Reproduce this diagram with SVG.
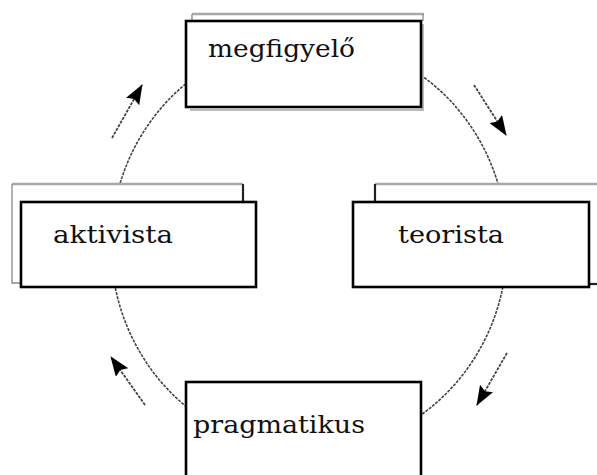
<svg xmlns="http://www.w3.org/2000/svg" width="597" height="475" viewBox="0 0 597 475">
  <style>
    .ring { fill: none; stroke: #444; stroke-width: 1.6; stroke-dasharray: 3 1.2; }
    .shaft { fill: none; stroke: #444; stroke-width: 1.8; stroke-dasharray: 3 1.2; }
    .back { fill: #fff; stroke: none; }
    .edge-light { stroke: #a8a8a8; stroke-width: 2.5; fill: none; }
    .edge-dark { stroke: #222; stroke-width: 2.2; fill: none; }
    .edge-thin { stroke: #888; stroke-width: 1.3; fill: none; }
    .front { fill: #fff; stroke: #000; stroke-width: 2.6; }
    .shadow { stroke: #bbb; stroke-width: 2; fill: none; }
    .label { font-family: "DejaVu Serif", "Liberation Serif", serif; font-size: 24px; fill: #111; }
  </style>
  <defs>
    <marker id="head" viewBox="0 0 20 15" refX="19" refY="7.5" markerWidth="20" markerHeight="15" markerUnits="userSpaceOnUse" orient="auto">
      <path d="M0,0 L20,7.5 L0,15 L3,7.5 Z" fill="#000"/>
    </marker>
  </defs>

  <!-- cycle ring and direction arrows -->
  <g id="connectors">
    <ellipse class="ring" cx="309" cy="245" rx="198" ry="206"/>
    <path class="shaft" d="M112,138 L142,85" marker-end="url(#head)"/>
    <path class="shaft" d="M474,85 L506,135" marker-end="url(#head)"/>
    <path class="shaft" d="M507,353 L477,405" marker-end="url(#head)"/>
    <path class="shaft" d="M145,405 L111,357" marker-end="url(#head)"/>
  </g>

  <!-- observer -->
  <g id="megfigyelo">
    <rect class="back" x="192" y="14" width="231" height="20"/>
    <line class="edge-light" x1="192" y1="14" x2="424" y2="14"/>
    <line class="edge-thin" x1="192" y1="14" x2="192" y2="21"/>
    <line class="edge-thin" x1="423" y1="14" x2="423" y2="21"/>
    <polyline class="shadow" points="190,110 423,110 423,24"/>
    <rect class="front" x="186" y="21" width="235" height="86"/>
    <text class="label" x="208" y="57" textLength="147" lengthAdjust="spacingAndGlyphs">megfigyelő</text>
  </g>

  <!-- activist -->
  <g id="aktivista">
    <rect class="back" x="12" y="184" width="231" height="99"/>
    <line class="edge-light" x1="12" y1="184" x2="243" y2="184"/>
    <polyline class="edge-thin" points="12,184 12,283 21,283"/>
    <line class="edge-dark" x1="243" y1="184" x2="243" y2="202"/>
    <rect class="front" x="21" y="202" width="235" height="85"/>
    <text class="label" x="53" y="243" textLength="120" lengthAdjust="spacingAndGlyphs">aktivista</text>
  </g>

  <!-- theorist -->
  <g id="teorista">
    <rect class="back" x="375" y="184" width="230" height="100"/>
    <line class="edge-light" x1="375" y1="184" x2="597" y2="184"/>
    <line class="edge-dark" x1="375" y1="184" x2="375" y2="202"/>
    <line class="edge-dark" x1="589" y1="284" x2="597" y2="284"/>
    <rect class="front" x="353" y="202" width="236" height="85"/>
    <text class="label" x="398" y="243" textLength="106" lengthAdjust="spacingAndGlyphs">teorista</text>
  </g>

  <!-- pragmatist -->
  <g id="pragmatikus">
    <rect class="front" x="186" y="382" width="235" height="110"/>
    <text class="label" x="193" y="433" textLength="172" lengthAdjust="spacingAndGlyphs">pragmatikus</text>
  </g>
</svg>
